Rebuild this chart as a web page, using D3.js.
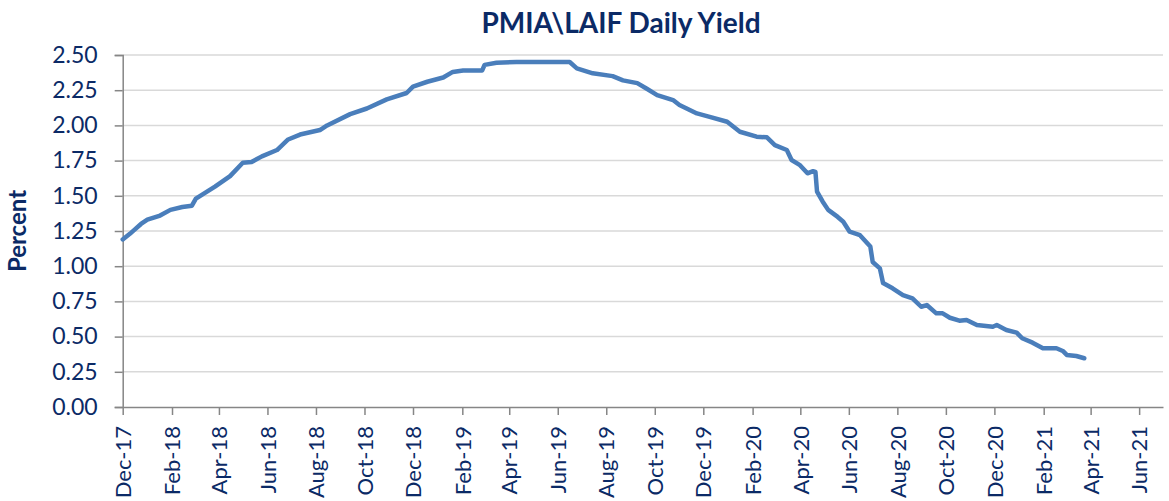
<!DOCTYPE html>
<html>
<head>
<meta charset="utf-8">
<script src="https://d3js.org/d3.v7.min.js"></script>
<style>
  html, body { margin: 0; padding: 0; background: #fff; }
  svg { display: block; }
  .tick text { font-family: Lato, "Open Sans", sans-serif; fill: #0b2a66; }
</style>
</head>
<body>
<svg id="chart" width="1169" height="501"></svg>
<script>
// yield readings (date, percent)
const dates = [
  "2017-12-01", "2017-12-10", "2017-12-16", "2017-12-24", "2018-01-01", "2018-01-17",
  "2018-01-30", "2018-02-14", "2018-02-26", "2018-03-03", "2018-03-27", "2018-04-15",
  "2018-05-01", "2018-05-12", "2018-05-25", "2018-06-13", "2018-06-27", "2018-07-12",
  "2018-08-06", "2018-08-15", "2018-09-13", "2018-10-04", "2018-10-29", "2018-11-23",
  "2018-12-01", "2018-12-19", "2019-01-08", "2019-01-20", "2019-02-02", "2019-02-26",
  "2019-03-01", "2019-03-16", "2019-04-10", "2019-06-16", "2019-06-25", "2019-07-15",
  "2019-08-09", "2019-08-22", "2019-09-09", "2019-09-21", "2019-10-04", "2019-10-24",
  "2019-11-01", "2019-11-23", "2019-12-09", "2019-12-31", "2020-01-16", "2020-02-06",
  "2020-02-19", "2020-02-29", "2020-03-15", "2020-03-21", "2020-03-31", "2020-04-10",
  "2020-04-17", "2020-04-20", "2020-04-22", "2020-04-29", "2020-05-06", "2020-05-18",
  "2020-05-25", "2020-06-02", "2020-06-15", "2020-06-28", "2020-07-01", "2020-07-10",
  "2020-07-14", "2020-07-26", "2020-08-08", "2020-08-20", "2020-08-31", "2020-09-07",
  "2020-09-19", "2020-09-27", "2020-10-06", "2020-10-18", "2020-10-27", "2020-11-09",
  "2020-11-29", "2020-12-04", "2020-12-16", "2020-12-29", "2021-01-05", "2021-01-18",
  "2021-01-31", "2021-02-17", "2021-02-25", "2021-03-02", "2021-03-14", "2021-03-24"
];
const yields = [
  1.19, 1.23, 1.26, 1.30, 1.33, 1.36,
  1.40, 1.42, 1.43, 1.48, 1.565, 1.64,
  1.735, 1.74, 1.78, 1.825, 1.90, 1.935,
  1.967, 2.00, 2.08, 2.12, 2.185, 2.23,
  2.275, 2.31, 2.34, 2.38, 2.39, 2.39,
  2.43, 2.445, 2.45, 2.45, 2.405, 2.37,
  2.35, 2.32, 2.30, 2.26, 2.215, 2.18,
  2.145, 2.085, 2.06, 2.026, 1.955, 1.92,
  1.915, 1.86, 1.825, 1.754, 1.72, 1.66,
  1.675, 1.67, 1.53, 1.46, 1.40, 1.35,
  1.316, 1.245, 1.22, 1.14, 1.03, 0.985,
  0.88, 0.843, 0.795, 0.772, 0.712, 0.724,
  0.665, 0.665, 0.634, 0.613, 0.618, 0.582,
  0.57, 0.582, 0.547, 0.528, 0.488, 0.457,
  0.417, 0.417, 0.398, 0.37, 0.362, 0.346
];
const yTicks = [0, 0.25, 0.5, 0.75, 1.0, 1.25, 1.5, 1.75, 2.0, 2.25, 2.5];
const xStart = "2017-12-01";
const xEnd = "2021-07-01";

const parseDate = d3.utcParse("%Y-%m-%d");
const data = dates.map((d, i) => ({ date: parseDate(d), value: yields[i] }));

const margin = { top: 55, right: 6, bottom: 94, left: 122.7 };
const svg = d3.select("#chart");
const width = +svg.attr("width") - margin.left - margin.right;
const height = +svg.attr("height") - margin.top - margin.bottom;
const navy = "#0b2a66";

const chart = svg.append("g")
  .attr("transform", `translate(${margin.left}, ${margin.top})`);

const x = d3.scaleUtc()
  .domain([parseDate(xStart), parseDate(xEnd)])
  .range([0, width]);

const y = d3.scaleLinear()
  .domain([0, 2.5])
  .range([height, 0]);

// every other month, starting Dec-17
const xTicks = d3.utcMonth.range(parseDate(xStart), parseDate(xEnd), 2);

// horizontal grid
chart.append("g")
  .selectAll("line")
  .data(yTicks.slice(1))
  .join("line")
  .attr("x1", 0)
  .attr("x2", width)
  .attr("y1", (d) => y(d))
  .attr("y2", (d) => y(d))
  .attr("stroke", "#d9d9d9")
  .attr("stroke-width", 1.5);

// y axis
const yAxisG = chart.append("g").attr("class", "y-axis");
yAxisG.call(
  d3.axisLeft(y).tickValues(yTicks).tickFormat(d3.format(".2f")).tickSize(8).tickPadding(17)
);
yAxisG.selectAll(".tick text").style("font-size", "23px");
yAxisG.selectAll("line, path").attr("stroke", "#868686").attr("stroke-width", 1.5);

// x axis
const xAxisG = chart.append("g")
  .attr("class", "x-axis")
  .attr("transform", `translate(0, ${height})`);
xAxisG.call(
  d3.axisBottom(x)
    .tickValues(xTicks)
    .tickFormat(d3.utcFormat("%b-%y"))
    .tickSize(8)
    .tickSizeOuter(0)
);
xAxisG.selectAll("line, path").attr("stroke", "#868686").attr("stroke-width", 1.5);
xAxisG.selectAll(".tick text")
  .style("font-size", "22px")
  .attr("text-anchor", "end")
  .attr("transform", "rotate(-90)")
  .attr("x", -19)
  .attr("y", 0)
  .attr("dy", "0.35em");

// yield line
chart.append("path")
  .datum(data)
  .attr("fill", "none")
  .attr("stroke", "#4a7ebb")
  .attr("stroke-width", 4.5)
  .attr("stroke-linejoin", "round")
  .attr("stroke-linecap", "round")
  .attr("d", d3.line().x((d) => x(d.date)).y((d) => y(d.value)));

// title
svg.append("text")
  .attr("x", 621)
  .attr("y", 33)
  .attr("text-anchor", "middle")
  .style("font-family", "Lato, 'Open Sans', sans-serif")
  .style("font-weight", "bold")
  .style("font-size", "28px")
  .attr("fill", navy)
  .text("PMIA\\LAIF Daily Yield");

// y label
svg.append("text")
  .attr("transform", "translate(26, 231) rotate(-90)")
  .attr("text-anchor", "middle")
  .style("font-family", "Lato, 'Open Sans', sans-serif")
  .style("font-weight", "bold")
  .style("font-size", "24px")
  .attr("fill", navy)
  .text("Percent");
</script>
</body>
</html>
